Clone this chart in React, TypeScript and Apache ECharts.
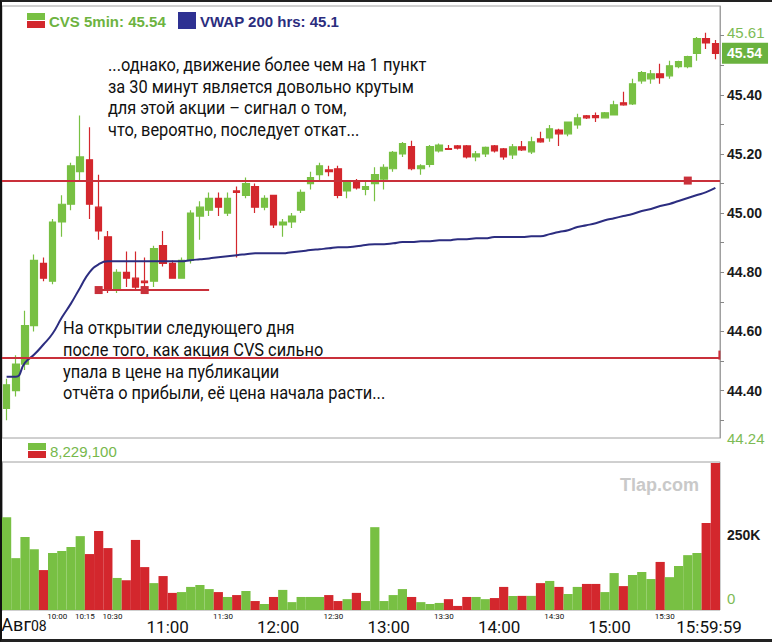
import React, { useEffect, useRef } from 'react';
import * as echarts from 'echarts';

// 5-minute bars, 09:30 .. 15:55
const times = [
  '09:30','09:35','09:40','09:45','09:50','09:55','10:00','10:05','10:10','10:15','10:20','10:25',
  '10:30','10:35','10:40','10:45','10:50','10:55','11:00','11:05','11:10','11:15','11:20','11:25',
  '11:30','11:35','11:40','11:45','11:50','11:55','12:00','12:05','12:10','12:15','12:20','12:25',
  '12:30','12:35','12:40','12:45','12:50','12:55','13:00','13:05','13:10','13:15','13:20','13:25',
  '13:30','13:35','13:40','13:45','13:50','13:55','14:00','14:05','14:10','14:15','14:20','14:25',
  '14:30','14:35','14:40','14:45','14:50','14:55','15:00','15:05','15:10','15:15','15:20','15:25',
  '15:30','15:35','15:40','15:45','15:50','15:55'
];

const opens = [
  44.34,44.40,44.49,44.62,44.83,44.77,44.97,45.03,45.14,45.18,45.02,44.92,
  44.74,44.80,44.78,44.77,44.77,44.89,44.83,44.78,44.84,44.99,45.01,45.05,
  45.00,45.075,45.06,45.09,45.02,45.06,44.96,44.97,45.01,45.10,45.13,45.146,
  45.15,45.075,45.11,45.08,45.10,45.115,45.15,45.20,45.225,45.15,45.165,45.21,
  45.218,45.227,45.227,45.19,45.20,45.227,45.217,45.197,45.224,45.207,45.251,45.254,
  45.281,45.268,45.298,45.329,45.33,45.322,45.332,45.373,45.369,45.447,45.454,45.471,
  45.464,45.495,45.495,45.54,45.59,45.573
];
const closes = [
  44.42,44.49,44.62,44.84,44.78,44.97,45.03,45.16,45.19,45.03,44.94,44.74,
  44.80,44.78,44.75,44.765,44.88,44.83,44.78,44.84,45.00,45.02,45.05,45.02,
  45.05,45.07,45.10,45.02,45.05,44.96,44.97,44.99,45.07,45.12,45.16,45.14,
  45.06,45.105,45.085,45.09,45.13,45.155,45.205,45.235,45.15,45.16,45.225,45.23,
  45.215,45.22,45.19,45.20,45.222,45.21,45.19,45.224,45.214,45.241,45.241,45.285,
  45.268,45.308,45.322,45.322,45.323,45.339,45.366,45.366,45.437,45.475,45.471,45.458,
  45.498,45.512,45.529,45.59,45.575,45.54
];
const lows = [
  44.30,44.38,44.47,44.60,44.77,44.76,44.92,45.01,45.11,44.98,44.91,44.73,
  44.73,44.75,44.74,44.74,44.75,44.82,44.78,44.78,44.83,44.91,44.99,44.99,
  44.99,44.85,45.05,45.00,45.01,44.95,44.92,44.95,45.00,45.08,45.11,45.125,
  45.05,45.05,45.08,45.06,45.04,45.08,45.14,45.19,45.145,45.13,45.155,45.205,
  45.213,45.215,45.185,45.175,45.19,45.205,45.18,45.183,45.21,45.20,45.238,45.241,
  45.227,45.26,45.285,45.318,45.308,45.32,45.33,45.363,45.365,45.437,45.437,45.437,
  45.454,45.49,45.49,45.515,45.555,45.52
];
const highs = [
  44.44,44.52,44.67,44.86,44.85,44.98,45.06,45.17,45.33,45.29,45.13,44.94,
  44.81,44.87,44.87,44.85,44.89,44.94,44.84,44.85,45.01,45.04,45.07,45.07,
  45.07,45.09,45.12,45.10,45.06,45.06,44.98,45.00,45.08,45.14,45.17,45.16,
  45.16,45.11,45.115,45.105,45.155,45.165,45.21,45.24,45.245,45.165,45.23,45.235,
  45.23,45.23,45.23,45.21,45.225,45.23,45.22,45.234,45.244,45.258,45.275,45.298,
  45.285,45.31,45.336,45.332,45.34,45.342,45.38,45.41,45.454,45.48,45.484,45.505,
  45.515,45.515,45.532,45.595,45.61,45.585
];

const vwap = [
  44.447,44.447,44.495,44.522,44.556,44.593,44.647,44.695,44.749,44.80,44.827,44.837,
  44.837,44.837,44.837,44.837,44.837,44.837,44.837,44.837,44.841,44.844,44.847,44.851,
  44.854,44.858,44.861,44.864,44.864,44.864,44.864,44.868,44.871,44.875,44.878,44.881,
  44.885,44.885,44.888,44.892,44.895,44.895,44.898,44.902,44.902,44.905,44.905,44.908,
  44.908,44.912,44.912,44.915,44.915,44.919,44.919,44.919,44.919,44.922,44.922,44.929,
  44.936,44.942,44.953,44.959,44.966,44.976,44.983,44.990,44.997,45.007,45.014,45.024,
  45.031,45.041,45.051,45.061,45.071,45.085
];

const volumes = [
  342000,191000,269000,224000,147000,210000,217000,232000,272000,206000,291000,228000,
  118000,110000,258000,158000,99000,125000,63000,66000,85000,92000,77000,66000,
  48000,55000,70000,33000,22000,48000,74000,29000,48000,48000,48000,55000,
  33000,40000,63000,33000,305000,33000,55000,77000,48000,29000,22000,26000,
  40000,15000,48000,48000,40000,44000,85000,52000,52000,52000,99000,107000,
  85000,59000,85000,96000,96000,66000,136000,88000,129000,140000,114000,177000,
  121000,162000,202000,210000,320000,541000
];

const priceTickLabels = [44.4, 44.6, 44.8, 45.0, 45.2, 45.4];
const priceMinorTicks = [44.3,44.4,44.5,44.6,44.7,44.8,44.9,45.0,45.1,45.2,45.3,45.4,45.5,45.6];
const dayLow = 44.24;
const dayHigh = 45.61;
const lastPrice = 45.54;
const resistanceLevel = 45.11;
const openLevel = 44.51;
const baseLevel = 44.74;
const volumeTickLabels = [0, 250000];
const volumeTotal = '8,229,100';
const dateLabel = 'Авг08';
const majorTimeLabels = ['11:00', '12:00', '13:00', '14:00', '15:00', '15:59:59'];
const minorTimeLabels = ['10:00', '10:15', '10:30', '11:30', '12:30', '13:30', '14:30', '15:30'];

const noteTop = '...однако, движение более чем на 1 пункт\nза 30 минут является довольно крутым\nдля этой акции – сигнал о том,\nчто, вероятно, последует откат...';
const noteBottom = 'На открытии следующего дня\nпосле того, как акция CVS сильно\nупала в цене на публикации\nотчёта о прибыли, её цена начала расти...';

const GREEN = '#78c043';
const RED = '#d3272d';
const LINE_RED = '#c9303a';
const BLUE = '#2c2d80';
const AXIS_GREY = '#a0a0a0';
const COND = "Roboto, 'Liberation Sans', sans-serif";
const SANS = "'Liberation Sans', Arial, sans-serif";

const toIndex = (t: string) => {
  const p = t.split(':').map(Number);
  const mins = p[0] * 60 + p[1] + (p[2] || 0) / 60;
  return (mins - 570) / 5;
};

export default function App() {
  const ref = useRef<HTMLDivElement>(null);

  useEffect(() => {
    document.body.style.margin = '0';
    if (!ref.current) return;
    const chart = echarts.init(ref.current, undefined, { renderer: 'svg' });

    const labelMap = new Map<number, string>();
    const key = (v: number) => Math.round(v * 1000);
    labelMap.set(key(0), `{d|${dateLabel.slice(0, 3)}}{d2|${dateLabel.slice(3)}}`);
    minorTimeLabels.forEach((t) => labelMap.set(key(toIndex(t)), `{s|${t}}`));
    majorTimeLabels.forEach((t, i) => {
      const style = i === majorTimeLabels.length - 1 ? 'e' : 'b';
      labelMap.set(key(toIndex(t)), `{${style}|${t}}`);
    });
    const timeValues = [0, ...minorTimeLabels.map(toIndex), ...majorTimeLabels.map(toIndex)];

    const candleData = opens.map((o, i) => [o, closes[i], lows[i], highs[i]]);
    const volData = volumes.map((v, i) => ({
      value: v,
      itemStyle: { color: closes[i] >= opens[i] ? GREEN : RED },
    }));

    const option: any = {
      animation: false,
      grid: [
        { left: 0, right: 52, top: 4, height: 432, show: true, borderColor: AXIS_GREY, borderWidth: 1, outerBoundsMode: 'none', containLabel: false },
        { left: 0, right: 52, top: 460, height: 148, show: true, borderColor: AXIS_GREY, borderWidth: 1, outerBoundsMode: 'none', containLabel: false },
      ],
      xAxis: [
        {
          type: 'category', gridIndex: 0, data: times, boundaryGap: true,
          axisLine: { show: false }, axisTick: { show: false }, axisLabel: { show: false }, splitLine: { show: false },
        },
        {
          type: 'category', gridIndex: 1, data: times, boundaryGap: true,
          axisLine: { show: false }, axisTick: { show: false }, axisLabel: { show: false }, splitLine: { show: false },
        },
        {
          type: 'value', gridIndex: 1, min: 0, max: 78, position: 'bottom',
          axisLine: { show: false }, axisTick: { show: false }, splitLine: { show: false },
          axisLabel: {
            customValues: timeValues,
            showMinLabel: true,
            showMaxLabel: true,
            hideOverlap: false,
            margin: 1,
            verticalAlign: 'top',
            formatter: (v: number) => labelMap.get(key(v)) || '',
            rich: {
              s: { fontSize: 8, lineHeight: 10, color: '#111', fontFamily: COND },
              b: { fontSize: 17, lineHeight: 22, padding: [9, 0, 0, 0], color: '#111', fontFamily: COND },
              e: { fontSize: 17, lineHeight: 22, padding: [9, 22, 0, 0], color: '#111', fontFamily: COND },
              d: { fontSize: 18, lineHeight: 22, padding: [9, 0, 0, 44], color: '#111', fontFamily: COND, verticalAlign: 'bottom' },
              d2: { fontSize: 14, lineHeight: 22, padding: [9, 0, 0, 0], color: '#111', fontFamily: COND, verticalAlign: 'bottom' },
            },
          },
        },
      ],
      yAxis: [
        {
          type: 'value', gridIndex: 0, position: 'right', min: dayLow, max: 45.7,
          axisLine: { show: true, lineStyle: { color: AXIS_GREY } },
          axisTick: { show: true, customValues: priceMinorTicks, length: 4, lineStyle: { color: '#888' } },
          splitLine: { show: false },
          axisLabel: {
            margin: 7,
            customValues: [dayLow, ...priceTickLabels, dayHigh],
            showMinLabel: true,
            showMaxLabel: true,
            formatter: (v: number) =>
              Math.abs(v - dayLow) < 1e-6 || Math.abs(v - dayHigh) < 1e-6
                ? `{g|${v.toFixed(2)}}`
                : `{b|${v.toFixed(2)}}`,
            rich: {
              b: { fontSize: 14, fontWeight: 'bold', color: '#1a1a1a', fontFamily: SANS },
              g: { fontSize: 15, color: '#7dbb55', fontFamily: SANS },
            },
          },
        },
        {
          type: 'value', gridIndex: 1, position: 'right', min: 0, max: 545000,
          axisLine: { show: true, lineStyle: { color: AXIS_GREY } },
          axisTick: { show: false },
          splitLine: { show: false },
          axisLabel: {
            margin: 7,
            verticalAlign: 'bottom',
            customValues: volumeTickLabels,
            showMinLabel: true,
            formatter: (v: number) => (v === 0 ? '{g|0}' : `{b|${Math.round(v / 1000)}K}`),
            rich: {
              b: { fontSize: 14, fontWeight: 'bold', color: '#1a1a1a', fontFamily: SANS },
              g: { fontSize: 15, color: '#7dbb55', fontFamily: SANS, padding: [0, 0, 4, 0] },
            },
          },
        },
      ],
      series: [
        {
          type: 'candlestick',
          name: 'CVS 5min',
          xAxisIndex: 0, yAxisIndex: 0,
          data: candleData,
          barWidth: 7,
          itemStyle: {
            color: GREEN, color0: RED, borderColor: GREEN, borderColor0: RED, borderWidth: 1.2,
          },
          markLine: {
            silent: true,
            symbol: ['none', 'none'],
            label: { show: false },
            lineStyle: { color: LINE_RED, width: 2, type: 'solid' },
            data: [
              { yAxis: resistanceLevel },
              { yAxis: openLevel },
              [{ coord: [times[10], baseLevel] }, { coord: [times[22], baseLevel] }],
              {
                yAxis: lastPrice,
                lineStyle: { color: 'rgba(0,0,0,0)', width: 0 },
                label: {
                  show: true, position: 'end', distance: 2,
                  formatter: lastPrice.toFixed(2),
                  backgroundColor: '#6ab23e', color: '#fff', fontWeight: 'bold', fontSize: 14,
                  fontFamily: SANS, padding: [4, 6, 3, 5],
                },
              },
            ],
          },
          markPoint: {
            silent: true,
            symbol: 'rect',
            symbolSize: 8,
            label: { show: false },
            itemStyle: { color: LINE_RED },
            data: [
              { coord: [times[10], baseLevel] },
              { coord: [times[15], baseLevel] },
              { coord: [times[74], resistanceLevel] },
              { coord: [times[77], openLevel], symbolSize: [2, 9], symbolOffset: [4, -3] },
            ],
          },
        },
        {
          type: 'line',
          name: 'VWAP 200 hrs',
          xAxisIndex: 0, yAxisIndex: 0,
          data: vwap,
          showSymbol: false,
          smooth: true,
          lineStyle: { color: BLUE, width: 2 },
        },
        {
          type: 'bar',
          name: 'Volume',
          xAxisIndex: 1, yAxisIndex: 1,
          data: volData,
          barCategoryGap: '0%',
        },
      ],
      graphic: [
        { type: 'rect', shape: { x: 25, y: 11, width: 18, height: 7 }, style: { fill: GREEN } },
        { type: 'rect', shape: { x: 25, y: 19, width: 18, height: 7 }, style: { fill: RED } },
        {
          type: 'text', x: 47, y: 19,
          style: { text: `CVS 5min: ${lastPrice.toFixed(2)}`, fill: '#6db33f', font: `bold 15px ${SANS}`, verticalAlign: 'middle' },
        },
        { type: 'rect', shape: { x: 176, y: 10, width: 18, height: 17 }, style: { fill: '#2e3192' } },
        {
          type: 'text', x: 198, y: 19,
          style: { text: `VWAP 200 hrs: ${resistanceLevel.toFixed(1)}`, fill: '#2b2d7e', font: `bold 15px ${SANS}`, verticalAlign: 'middle' },
        },
        { type: 'rect', shape: { x: 26, y: 441, width: 18, height: 7 }, style: { fill: GREEN } },
        { type: 'rect', shape: { x: 26, y: 449, width: 18, height: 7 }, style: { fill: RED } },
        {
          type: 'text', x: 48, y: 449,
          style: { text: volumeTotal, fill: '#76b84c', font: `15px ${SANS}`, verticalAlign: 'middle' },
        },
        {
          type: 'text', x: 618, y: 483,
          style: { text: 'Tlap.com', fill: '#c9c9c9', font: `bold 18px ${SANS}`, verticalAlign: 'middle' },
        },
        {
          type: 'text', x: 106, y: 52, scaleX: 0.91,
          style: { text: noteTop, fill: '#111', font: `18px ${COND}`, lineHeight: 21.5, verticalAlign: 'top' },
        },
        {
          type: 'text', x: 61, y: 315, scaleX: 0.91,
          style: { text: noteBottom, fill: '#111', font: `18px ${COND}`, lineHeight: 21.7, verticalAlign: 'top' },
        },
      ],
    };

    chart.setOption(option);
    return () => chart.dispose();
  }, []);

  return (
    <div
      style={{
        width: 772, height: 642, boxSizing: 'border-box', background: '#fff',
        borderLeft: '2px solid #111', borderTop: '2px solid #222', borderBottom: '3px solid #222',
        overflow: 'hidden',
      }}
    >
      <div ref={ref} style={{ width: 770, height: 637 }} />
    </div>
  );
}
